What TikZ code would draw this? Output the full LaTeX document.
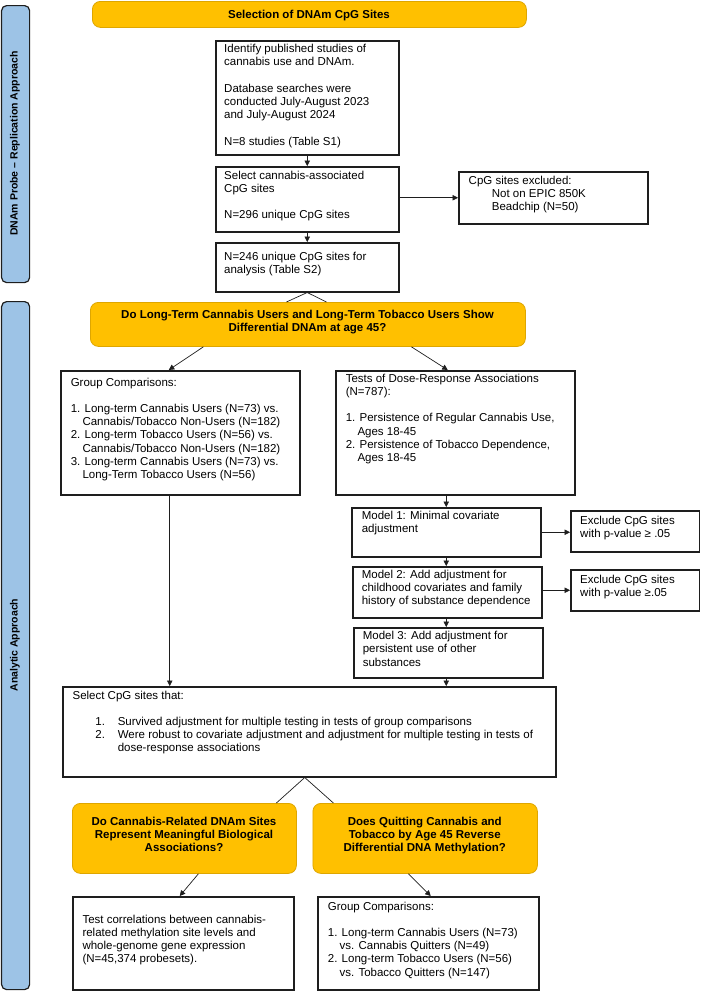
\documentclass[tikz,border=0pt]{standalone}
\usepackage{fontspec}
\setmainfont{Liberation Sans}
\usetikzlibrary{arrows.meta,calc}
\definecolor{gold}{RGB}{255,192,0}
\definecolor{goldedge}{RGB}{222,166,0}
\definecolor{sideblue}{RGB}{157,195,230}
\definecolor{ink}{RGB}{30,30,30}
\newcommand{\flines}[1]{\begin{tabular}[t]{@{}l@{}}#1\end{tabular}}
\newcommand{\clines}[1]{\begin{tabular}[t]{@{}c@{}}#1\end{tabular}}
\newcommand{\hang}{\hspace*{11.7pt}}
\tikzset{
  boxstyle/.style={draw=ink, line width=1.5pt, fill=white, inner sep=0pt, anchor=north west},
  goldbox/.style={draw=goldedge, line width=0.8pt, fill=gold, rounded corners=8pt, inner sep=0pt, anchor=north west},
  sidebar/.style={draw=ink, line width=1.2pt, fill=sideblue, rounded corners=5pt, inner sep=0pt, anchor=north west},
  bodytext/.style={anchor=base west, inner sep=0pt, font=\fontsize{11.5}{13.2}\selectfont},
  headtext/.style={anchor=base, inner sep=0pt, font=\fontsize{11.5}{13.2}\selectfont\bfseries},
  sidetext/.style={rotate=90, inner sep=0pt, font=\fontsize{10.5}{12}\selectfont\bfseries},
  arr/.style={draw=ink, line width=0.7pt, -{Triangle[length=5.5pt,width=5.5pt]}},
  plain/.style={draw=ink, line width=0.7pt}
}
\newcommand{\bx}[6]{\node[#6, minimum width={(#4-#2)*1pt}, minimum height={(#5-#3)*1pt}] (#1) at (#2,#3) {};}
\begin{document}
\begin{tikzpicture}[x=1pt,y=-1pt]
\useasboundingbox (0,0) rectangle (701,991);

% sidebars
\bx{sideA}{1}{5}{29}{282}{sidebar}
\bx{sideB}{1}{301}{29}{989}{sidebar}
\node[sidetext] (sideAt) at (15,143.5) {DNAm Probe – Replication Approach};
\node[sidetext] (sideBt) at (15,645) {Analytic Approach};

% top section
\bx{sel0}{92}{1}{526}{27}{goldbox}
\node[headtext] (sel0t) at (309,18) {Selection of DNAm CpG Sites};

\bx{b1}{215}{40}{398}{154}{boxstyle}
\node[bodytext] (b1t) at (224,52.7) {\flines{Identify published studies of\\cannabis use and DNAm.\\ \\Database searches were\\conducted July-August 2023\\and July-August 2024\\ \\N=8 studies (Table S1)}};

\bx{b2}{215}{166}{398}{231}{boxstyle}
\node[bodytext] (b2t) at (224,179.3) {\flines{Select cannabis-associated\\CpG sites\\ \\N=296 unique CpG sites}};

\bx{ex0}{458}{171}{647}{223}{boxstyle}
\node[bodytext] (ex0t) at (468.5,184) {\flines{CpG sites excluded:\\\hspace*{23.2pt}Not on EPIC 850K\\\hspace*{23.2pt}Beadchip (N=50)}};

\bx{b3}{215}{242}{398}{291}{boxstyle}
\node[bodytext] (b3t) at (224,260) {\flines{N=246 unique CpG sites for\\analysis (Table S2)}};

% question 1
\bx{q1}{90}{302}{525}{346}{goldbox}
\node[headtext] (q1t) at (307.5,318.3) {\clines{Do Long-Term Cannabis Users and Long-Term Tobacco Users Show\\Differential DNAm at age 45?}};

\bx{grp}{60}{370}{299}{494}{boxstyle}
\node[bodytext] (grpt) at (70.6,386) {\flines{Group Comparisons:\\ \\1. Long-term Cannabis Users (N=73) vs.\\\hang Cannabis/Tobacco Non-Users (N=182)\\2. Long-term Tobacco Users (N=56) vs.\\\hang Cannabis/Tobacco Non-Users (N=182)\\3. Long-term Cannabis Users (N=73) vs.\\\hang Long-Term Tobacco Users (N=56)}};

\bx{dose}{335}{370}{574}{494}{boxstyle}
\node[bodytext] (doset) at (345.6,382.3) {\flines{Tests of Dose-Response Associations\\(N=787):\\ \\1. Persistence of Regular Cannabis Use,\\\hang Ages 18-45\\2. Persistence of Tobacco Dependence,\\\hang Ages 18-45}};

\bx{m1}{351}{507}{540}{556}{boxstyle}
\node[bodytext] (m1t) at (361.6,519) {\flines{Model 1: Minimal covariate\\adjustment}};

\bx{ex1}{570}{510}{698.8}{551}{boxstyle}
\node[bodytext] (ex1t) at (580,524.3) {\flines{Exclude CpG sites\\with p-value \symbol{"2265} .05}};

\bx{m2}{352}{566}{541}{617}{boxstyle}
\node[bodytext] (m2t) at (361.6,578.3) {\flines{Model 2: Add adjustment for\\childhood covariates and family\\history of substance dependence}};

\bx{ex2}{570}{569}{698.8}{610}{boxstyle}
\node[bodytext] (ex2t) at (580,583.3) {\flines{Exclude CpG sites\\with p-value \symbol{"2265}.05}};

\bx{m3}{353}{627}{542}{677}{boxstyle}
\node[bodytext] (m3t) at (362.6,639.7) {\flines{Model 3: Add adjustment for\\persistent use of other\\substances}};

\bx{sel}{62}{686}{555}{776}{boxstyle}
\node[bodytext] (selt) at (72.4,699) {\flines{Select CpG sites that:\\ \\\hspace*{22.8pt}\makebox[22.4pt][l]{1.}Survived adjustment for multiple testing in tests of group comparisons\\\hspace*{22.8pt}\makebox[22.4pt][l]{2.}Were robust to covariate adjustment and adjustment for multiple testing in tests of\\\hspace*{45.2pt}dose-response associations}};

% lower questions
\bx{q2}{72}{803}{296}{873}{goldbox}
\node[headtext] (q2t) at (184,825.3) {\clines{Do Cannabis-Related DNAm Sites\\Represent Meaningful Biological\\Associations?}};

\bx{q3}{312.5}{803}{537}{873}{goldbox}
\node[headtext] (q3t) at (424.75,825.3) {\clines{Does Quitting Cannabis and\\Tobacco by Age 45 Reverse\\Differential DNA Methylation?}};

\bx{bl}{72}{896}{293}{989}{boxstyle}
\node[bodytext] (blt) at (82.3,923.3) {\flines{Test correlations between cannabis-\\related methylation site levels and\\whole-genome gene expression\\(N=45,374 probesets).}};

\bx{br}{317}{896}{538}{989}{boxstyle}
\node[bodytext] (brt) at (327.7,910) {\flines{Group Comparisons:\\ \\1. Long-term Cannabis Users (N=73)\\\hang vs. Cannabis Quitters (N=49)\\2. Long-term Tobacco Users (N=56)\\\hang vs. Tobacco Quitters (N=147)}};

% connectors
\draw[arr] (b1.south) -- (b2.north);
\draw[arr] (b2.east |- ex0.west) -- (ex0.west);
\draw[arr] (b2.south) -- (b3.north);
\draw[plain] (b3.south) -- ([xshift=-21.5pt]q1.north);
\draw[plain] (b3.south) -- ([xshift=18.5pt]q1.north);
\draw[arr] ([xshift=-104.5pt]q1.south) -- ([xshift=-11.5pt]grp.north);
\draw[arr] ([xshift=103.5pt]q1.south) -- ([xshift=-7.5pt]dose.north);
\draw[arr] (m1.north |- dose.south) -- (m1.north);
\draw[arr] (m1.east) -- (m1.east -| ex1.west);
\draw[arr] (m1.south) -- (m1.south |- m2.north);
\draw[arr] (ex2.west -| m2.east) -- (ex2.west);
\draw[arr] (m1.south |- m2.south) -- (m1.south |- m3.north);
\draw[arr] (m1.south |- m3.south) -- (m1.south |- sel.north);
\draw[arr] ([xshift=-10.5pt]grp.south) -- ([xshift=-10.5pt]grp.south |- sel.north);
\draw[plain] ([xshift=-4.5pt]sel.south) -- ([xshift=92pt]q2.north);
\draw[plain] ([xshift=-4.5pt]sel.south) -- ([xshift=-91.75pt]q3.north);
\draw[arr] ([xshift=14pt]q2.south) -- ([xshift=-3.5pt]bl.north);
\draw[arr] ([xshift=-16.75pt]q3.south) -- ([xshift=2.5pt]br.north);
\end{tikzpicture}
\end{document}
